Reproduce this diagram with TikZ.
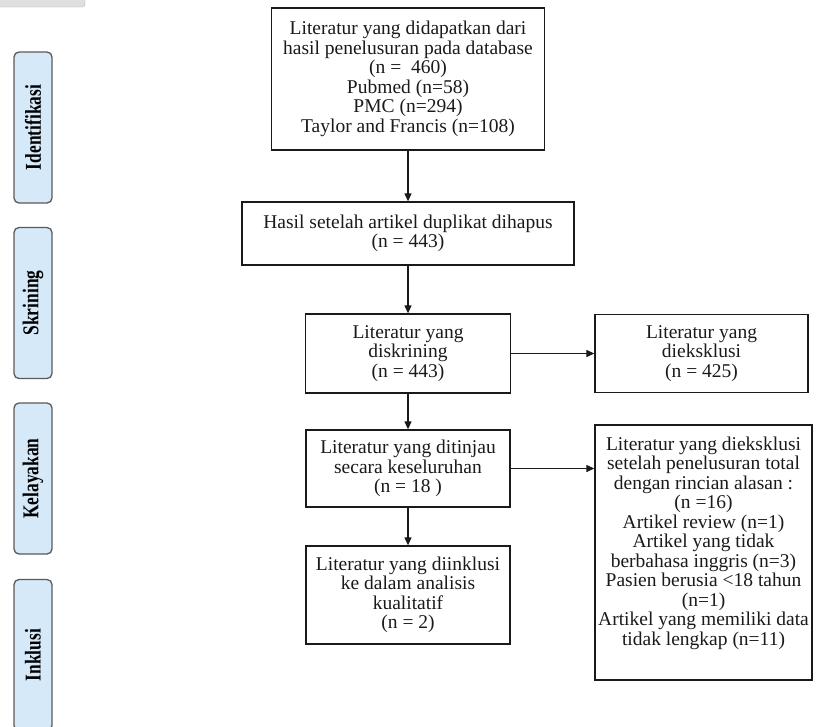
\documentclass[tikz,border=0pt]{standalone}
\usepackage{fontspec}
\setmainfont{Liberation Serif}
\usetikzlibrary{arrows.meta}
\definecolor{tahapfill}{HTML}{D6E9F8}
\definecolor{tahapdraw}{HTML}{5A5A5A}
\definecolor{garis}{HTML}{1A1A1A}
\tikzset{
  kotak/.style={
    draw=garis, line width=1.3pt, align=center, inner sep=0pt,
    font=\fontsize{19.5}{19.5}\selectfont, text=garis
  },
  tahap/.style={
    draw=tahapdraw, fill=tahapfill, line width=1.3pt,
    rounded corners=5pt, inner sep=0pt,
    minimum width=38pt, minimum height=151pt
  },
  panah/.style={draw=garis, line width=1.1pt, -{Triangle[length=8pt,width=7pt]}},
}
\newcommand{\tahaplabel}[1]{%
  \rotatebox{90}{\scalebox{1}[1.3]{\fontsize{17.4}{17.4}\selectfont\bfseries #1}}}

\begin{document}
\begin{tikzpicture}[x=1pt,y=-1pt]
  \clip (0,0) rectangle (830,726);

  % potongan bentuk di pojok kiri atas
  \draw[fill=gray!25, draw=gray!60, rounded corners=3pt] (-5,-10) rectangle (85,7);

  % tahapan di sisi kiri
  \node[tahap] (ident) at (33,127.5) {\tahaplabel{Identifikasi}};
  \node[tahap] (skrin) at (33,303)   {\tahaplabel{Skrining}};
  \node[tahap] (kelay) at (33,478.5) {\tahaplabel{Kelayakan}};
  \node[tahap] (inkl)  at (33,655)   {\tahaplabel{Inklusi}};

  % alur utama
  \node[kotak, minimum width=273pt, minimum height=142pt] (sumber) at (408,79)
    {Literatur yang didapatkan dari\\hasil penelusuran pada database\\
     (n = \ 460)\\Pubmed (n=58)\\PMC (n=294)\\Taylor and Francis (n=108)};
  \node[kotak, minimum width=332pt, minimum height=63pt] (duplikat) at (408,233.5)
    {Hasil setelah artikel duplikat dihapus\\(n = 443)};
  \node[kotak, minimum width=205pt, minimum height=79pt] (skrining) at (408,353.5)
    {Literatur yang\\diskrining\\(n = 443)};
  \node[kotak, minimum width=213pt, minimum height=78pt] (eksklusi) at (701.5,353.5)
    {Literatur yang\\dieksklusi\\(n = 425)};
  \node[kotak, minimum width=204pt, minimum height=77pt] (tinjau) at (408,468.5)
    {Literatur yang ditinjau\\secara keseluruhan\\(n = 18 )};
  \node[kotak, minimum width=204pt, minimum height=98pt] (inklusi) at (408,595)
    {Literatur yang diinklusi\\ke dalam analisis\\kualitatif\\(n = 2)};
  \node[kotak, minimum width=217pt, minimum height=255pt] (alasan) at (703.5,552.5)
    {Literatur yang dieksklusi\\setelah penelusuran total\\dengan rincian alasan :\\
     (n =16)\\Artikel review (n=1)\\Artikel yang tidak\\berbahasa inggris (n=3)\\
     Pasien berusia <18 tahun\\(n=1)\\Artikel yang memiliki data\\
     tidak lengkap (n=11)\\[4pt]\mbox{}};

  \draw[panah] (sumber) -- (duplikat);
  \draw[panah] (duplikat) -- (skrining);
  \draw[panah] (skrining) -- (eksklusi);
  \draw[panah] (skrining) -- (tinjau);
  \draw[panah] (tinjau.east) -- (tinjau.east -| alasan.west);
  \draw[panah] (tinjau) -- (inklusi);
\end{tikzpicture}
\end{document}
